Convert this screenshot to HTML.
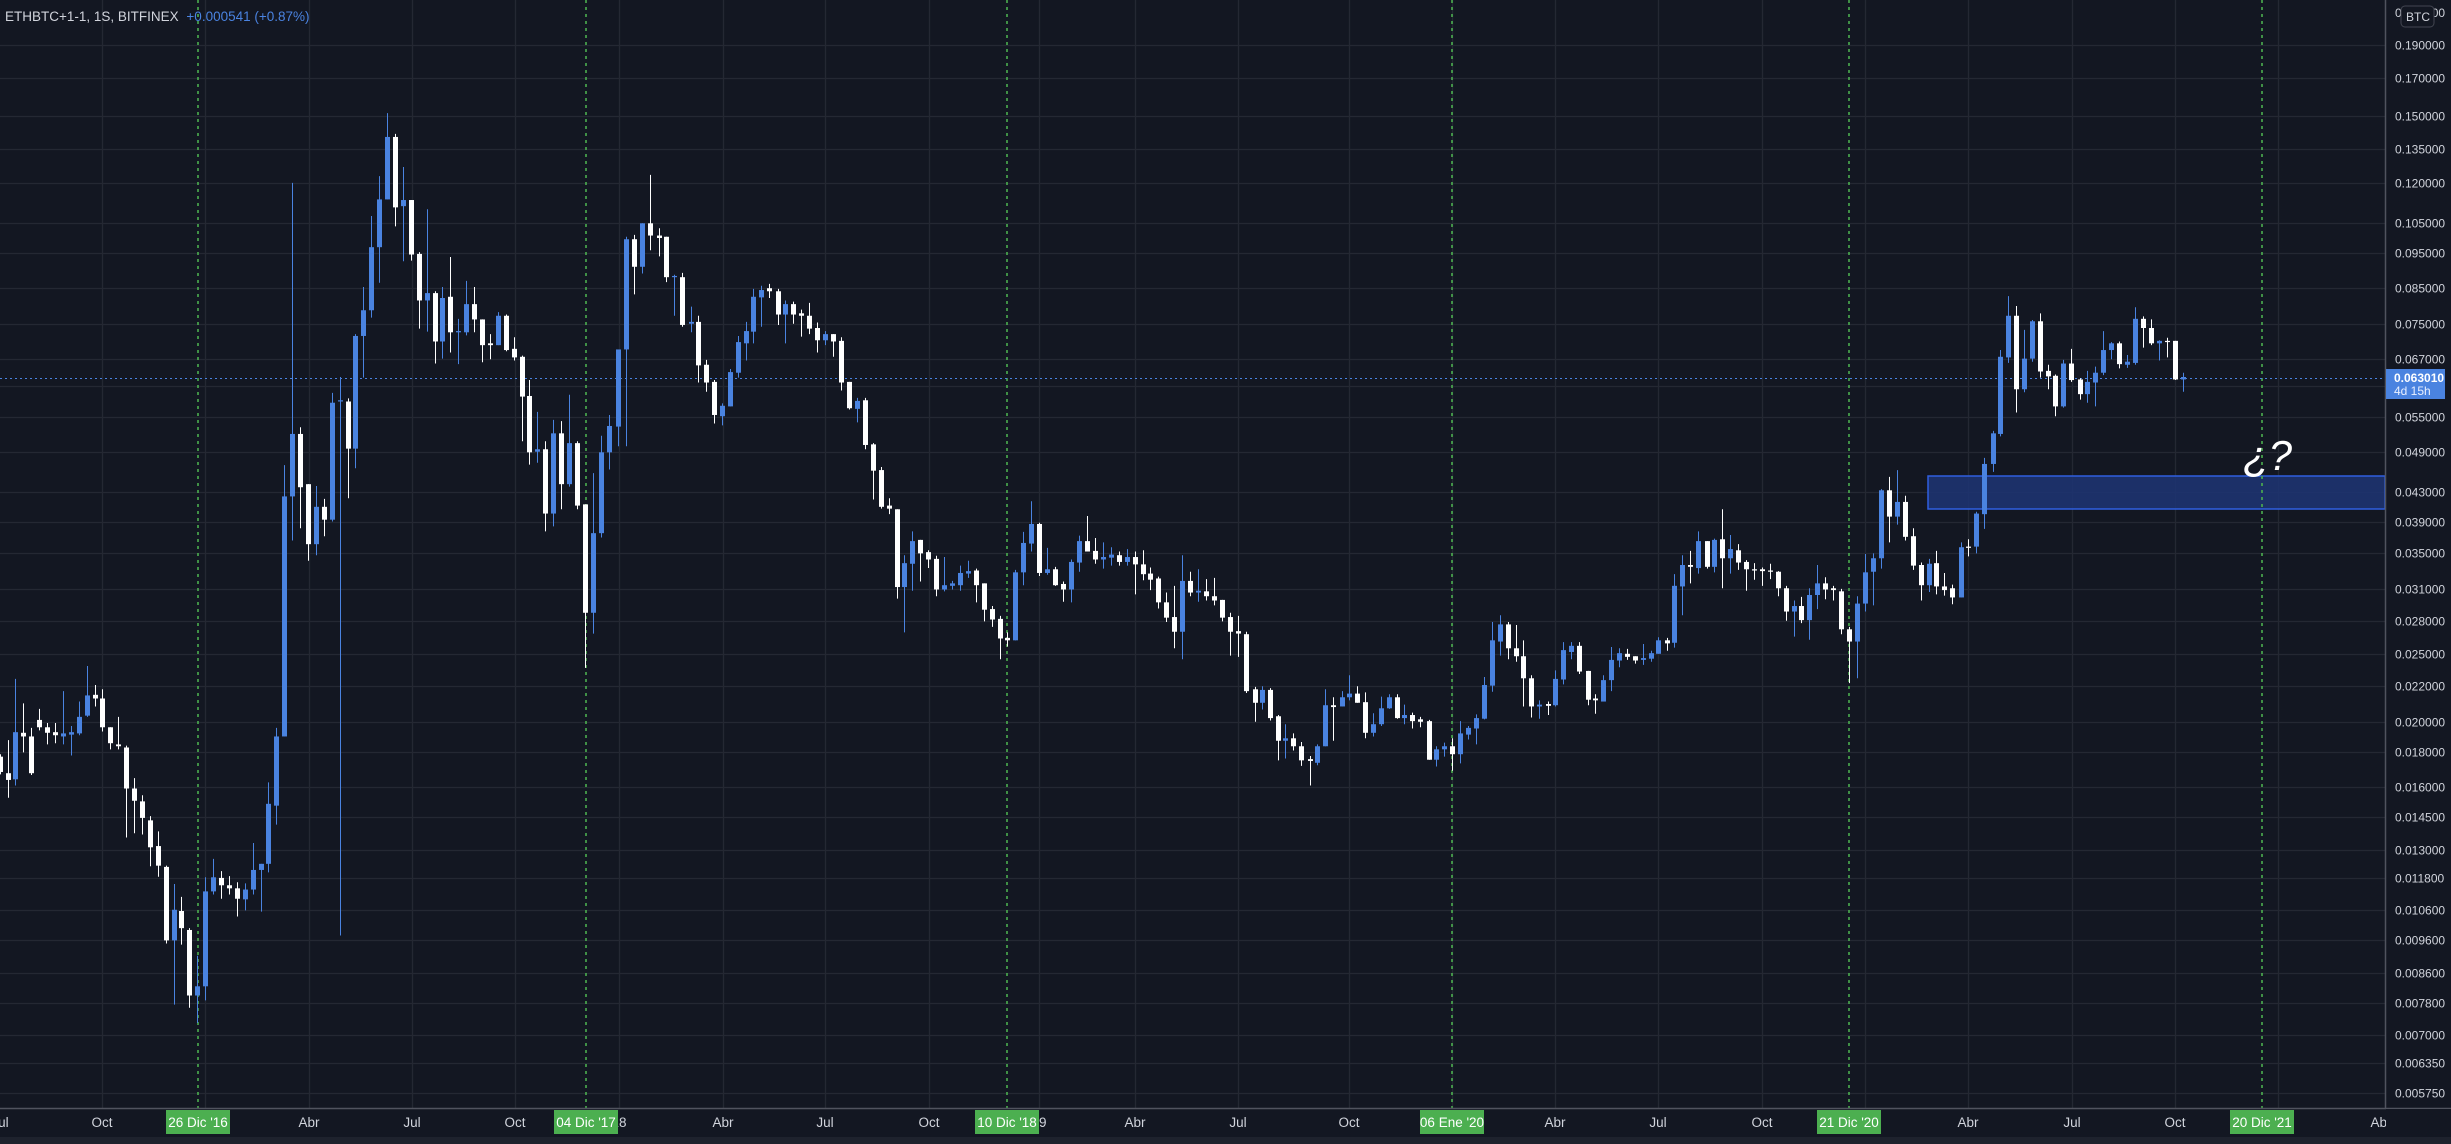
<!DOCTYPE html>
<html><head><meta charset="utf-8"><style>
html,body{margin:0;padding:0;background:#131722;width:2451px;height:1144px;overflow:hidden}
svg{display:block}
text{font-family:"Liberation Sans",sans-serif}
</style></head><body>
<svg id="s" width="2451" height="1144" xmlns="http://www.w3.org/2000/svg"></svg>
<script>
const NS="http://www.w3.org/2000/svg";const S=document.getElementById('s');
function el(t,a,txt){const e=document.createElementNS(NS,t);for(const k in a)e.setAttribute(k,a[k]);if(txt!==undefined)e.textContent=txt;S.appendChild(e);return e;}
el('rect',{x:0,y:0,width:2451,height:1144,fill:'#131722'});
const L=[["0.190000",45],["0.170000",78],["0.150000",116],["0.135000",149],["0.120000",183],["0.105000",223],["0.095000",253],["0.085000",288],["0.075000",324],["0.067000",359],["",386],["0.055000",417],["0.049000",452],["0.043000",492],["0.039000",522],["0.035000",553],["0.031000",589],["0.028000",621],["0.025000",654],["0.022000",686],["0.020000",722],["0.018000",752],["0.016000",787],["0.014500",817],["0.013000",850],["0.011800",878],["0.010600",910],["0.009600",940],["0.008600",973],["0.007800",1003],["0.007000",1035],["0.006350",1063],["0.005750",1093]];
for(const [t,y] of L){el('line',{x1:0,x2:2385,y1:y+.5,y2:y+.5,stroke:'#242833','stroke-width':1.3});}
const VX=[102,205,309,412,515,619,723,825,929,1039,1135,1238,1349,1452,1555,1658,1762,1865,1968,2072,2175,2278];
for(const x of VX)el('line',{x1:x+.5,x2:x+.5,y1:0,y2:1108,stroke:'#242833','stroke-width':1.3});
el('rect',{x:1928,y:476,width:457,height:33,fill:'#1e3370','fill-opacity':0.9,stroke:'#2f5fe0','stroke-width':1.5});
for(const x of [198,586,1007,1452,1849,2262])el('line',{x1:x,x2:x,y1:0,y2:1108,stroke:'#4caf50','stroke-width':1.6,'stroke-dasharray':'3 4'});
el('line',{x1:0,x2:2385,y1:378.5,y2:378.5,stroke:'#4a83e0','stroke-width':1,'stroke-dasharray':'2 3'});
const C=[[0,[
[0,1105,1130,0],[19,1132,1143,0,1078,1172],[39,1065,1142,1,978,1152],[59,1066,1072,0,1018,1098],[79,1072,1132,0,1058,1135],[99,1045,1057,0,1027,1062],[119,1057,1066,0,1050,1085],[139,1065,1070,0,1050,1083],[159,1067,1072,1,998,1085],[179,1065,1069,1,1055,1103],[199,1040,1067,1,1015,1070],[219,1005,1038,1,957,1040],[239,1004,1010,0,988,1023],[259,1010,1057,0,995,1064],[279,1057,1083,0,1057,1093],[299,1085,1088,0,1040,1093],[319,1090,1157,0,1087,1237],[339,1157,1177,0,1140,1230],[359,1178,1205,0,1168,1232],[379,1209,1253,0,1202,1284],[399,1251,1283,0,1227,1301],[419,1285,1405,0,1283,1410],[439,1355,1405,1,1313,1510],[459,1357,1385,0,1334,1412],[479,1388,1495,0,1385,1515],[499,1480,1495,1,1430,1540],[519,1325,1480,1,1302,1503],[539,1302,1325,1,1272,1330],[559,1303,1315,0,1292,1337],[579,1315,1320,0,1300,1330],[599,1320,1337,0,1310,1366],[619,1322,1338,1,1312,1356],[639,1290,1322,1,1246,1330],[659,1280,1290,1,1280,1358],[679,1182,1280,1,1147,1294],[699,1072,1185,1,1058,1216],[719,680,1072,1,629,1072],[739,578,680,1,168,752],[759,578,665,0,567,732],[779,660,758,0,660,785],[799,697,758,1,663,776],[819,697,718,0,684,745],[839,527,718,1,511,721],[859,523,525,1,485,1397],[879,525,602,0,520,683],[899,418,602,1,415,634],[919,376,418,1,338,486],[939,273,376,1,222,388],[959,195,273,1,157,331],[979,93,195,1,54,195],[999,93,208,0,88,239],[1019,196,206,1,142,296],[1039,196,285,0,196,295],[1059,284,360,0,281,406],[1079,348,360,1,211,411],[1099,348,427,0,345,463],[1119,356,427,1,338,455],[1139,354,412,0,289,445],[1159,410,412,1,390,464],[1179,366,412,1,328,417],[1199,366,391,0,338,412],[1219,391,433,0,391,461],[1239,430,433,0,415,456],[1259,385,433,1,379,433],[1279,385,441,0,383,443],[1299,439,453,0,420,458],[1319,452,517,0,450,590],[1339,516,608,0,490,628],[1359,603,607,1,542,625],[1379,603,708,0,590,737],[1399,577,708,1,555,729],[1419,577,660,0,557,701],[1439,593,660,1,514,664],[1459,593,695,0,590,701],[1479,693,870,0,693,960],[1499,740,870,1,642,904],[1519,608,740,1,581,747],[1539,565,608,1,547,636]]],
[600,[[46,440,566,1,440,598],[67,260,440,1,256,598],[87,260,305,0,253,350],[107,234,305,1,234,316],[127,234,254,0,155,278],[148,254,258,0,242,288],[168,256,322,0,256,330],[188,320,322,1,318,385],[208,322,400,0,315,403],[229,395,398,1,370,412],[249,395,466,0,385,494],[269,465,494,0,457,509],[289,493,547,0,490,561],[309,532,549,1,528,564],[330,477,533,1,472,533],[350,428,478,1,418,486],[368,410,430,1,395,458],[388,354,411,1,341,430],[408,343,355,1,336,403],[428,340,345,0,333,356],[449,345,383,0,341,400],[469,366,383,1,360,430],[489,366,383,0,362,398],[509,381,385,0,375,419],[529,385,406,0,364,415],[549,405,425,0,396,445],[570,415,425,1,410,433],[590,415,427,0,415,452],[610,426,494,0,420,507],[630,493,536,0,493,538],[651,524,537,1,519,559],[670,523,596,0,519,603],[690,595,638,0,593,685],[710,637,697,0,632,700],[730,695,700,0,683,709],[750,701,828,0,701,847],[770,789,828,1,776,902],[790,753,790,1,737,834],[810,751,773,0,751,819],[830,771,783,0,768,797],[850,782,832,0,777,843],[870,825,832,1,779,835],[890,822,826,1,818,832],[911,805,825,1,793,834],[931,802,806,1,785,813],[951,801,825,0,798,853],[971,822,865,0,822,884],[991,864,881,0,859,893],[1011,880,912,0,875,946],[1030,911,915,0,902,925],[1050,804,915,1,800,915],[1071,756,804,1,738,825],[1091,725,757,1,688,770],[1111,725,805,0,723,810],[1131,799,805,1,764,808],[1151,799,825,0,795,826],[1172,823,832,0,819,852],[1192,787,832,1,783,853],[1212,753,788,1,744,803],[1232,753,770,0,712,770],[1253,769,783,0,748,790],[1273,779,783,1,755,798],[1293,775,780,1,763,793],[1313,776,787,0,770,793],[1333,779,787,1,766,793],[1352,779,791,0,770,840],[1372,791,807,0,768,817],[1392,806,816,0,796,833],[1412,814,853,0,811,863],[1432,853,878,0,837,885],[1452,877,901,0,826,928],[1472,818,901,1,776,946],[1492,818,837,0,803,843],[1513,834,837,1,799,852],[1533,835,843,0,815,850],[1553,843,850,0,813,858]]],
[1200,[[56,849,878,0,849,884],[77,877,901,0,870,940],[97,900,904,0,875,942],[117,905,998,0,901,1001],[138,995,1017,0,991,1048],[156,996,1017,1,990,1028],[176,996,1042,0,993,1046],[196,1039,1079,0,1037,1111],[216,1075,1079,1,1052,1108],[236,1075,1088,0,1067,1095],[256,1088,1111,0,1081,1120],[277,1109,1112,0,1104,1152],[297,1088,1115,1,1085,1119],[317,1021,1088,1,995,1088],[337,1021,1024,0,1008,1079],[358,1008,1023,1,998,1023],[378,1002,1008,1,972,1013],[398,1002,1017,0,990,1017],[418,1016,1066,0,1000,1075],[438,1052,1066,1,1034,1072],[459,1026,1052,1,1007,1055],[479,1008,1026,1,1003,1027],[497,1008,1042,0,1003,1043],[517,1037,1042,1,1020,1052],[537,1037,1047,0,1033,1059],[557,1044,1048,0,1040,1057],[578,1047,1110,0,1045,1110],[598,1093,1110,1,1088,1121],[618,1088,1093,1,1082,1105],[638,1088,1101,0,1075,1128],[658,1067,1101,1,1047,1116],[679,1058,1069,1,1055,1077],[699,1042,1059,1,1036,1085],[719,988,1043,1,975,1044],[739,915,989,1,885,999],[759,889,917,1,874,940],[779,889,928,0,885,946],[800,928,941,0,890,950],[818,941,977,0,915,1023],[838,977,1023,0,972,1041],[858,1020,1023,1,1013,1043],[879,1019,1022,0,1015,1037],[899,978,1021,1,964,1023],[919,931,979,1,918,987],[939,924,934,1,918,946],[959,924,966,0,918,970],[980,965,1012,0,965,1021],[1000,1010,1013,0,1003,1035],[1020,980,1015,1,972,1015],[1040,947,980,1,926,998],[1060,936,948,1,928,959],[1081,937,942,0,929,947],[1101,941,948,0,941,953],[1121,944,947,1,921,955],[1141,936,945,1,932,950],[1159,915,937,1,910,937],[1180,915,920,0,911,932],[1200,826,919,1,807,927],[1220,792,827,1,776,874],[1240,792,795,0,769,822],[1260,753,797,1,737,806],[1281,753,795,0,753,798],[1301,751,795,1,749,804],[1321,750,781,0,701,830],[1341,766,781,1,743,806],[1361,768,788,0,758,800],[1382,787,799,0,784,834],[1402,799,801,0,789,816],[1422,799,802,0,796,826],[1442,801,803,0,790,815],[1463,803,830,0,802,843],[1483,830,868,0,826,883],[1501,859,868,1,850,909],[1521,859,882,0,844,887],[1541,841,882,1,830,914],[1561,822,841,1,792,864]]],
[1800,[[64,822,832,0,812,848],[84,830,833,0,826,850],[104,835,897,0,831,905],[125,897,917,0,893,985],[145,855,917,1,843,977],[165,804,855,1,774,868],[185,781,803,1,773,858],[205,670,781,1,668,798],[226,670,713,0,648,755],[246,689,713,1,637,726],[266,689,746,0,679,752],[287,745,793,0,732,800],[305,792,825,0,788,850],[325,790,825,1,782,836],[345,789,827,0,769,840],[365,827,833,0,805,842],[385,830,845,0,824,856],[406,763,845,1,755,845],[426,762,764,0,750,778],[446,708,762,1,705,773],[466,627,709,1,617,733],[487,577,627,1,573,640],[507,452,578,1,441,582],[527,385,453,1,353,462],[547,385,505,0,369,543],[567,455,505,1,408,510],[587,394,455,1,392,460],[608,394,476,0,381,486],[628,475,484,0,465,505],[646,483,533,0,481,549],[666,463,533,1,457,535],[686,463,490,0,439,493],[707,489,513,0,487,522],[727,493,513,1,475,527],[747,478,494,1,468,533],[767,441,478,1,410,482],[787,430,441,1,428,456],[807,430,464,0,427,471],[827,460,465,1,449,470],[847,390,462,1,371,465],[867,390,405,0,386,437],[888,405,430,0,391,433],[908,426,430,1,425,458],[929,426,428,0,421,453],[949,426,489,0,426,490],[969,485,489,1,478,509]]]];
const FX=2.529,FY=1.633;
for(const [x0,arr] of C){for(const c of arr){
 const x=x0+c[0]/FX;const t=80+c[1]/FY;let b=80+c[2]/FY;
 const col=c[3]?'#4a83e0':'#ffffff';
 const wt=80+(c[4]!==undefined?c[4]:c[1]-4)/FY, wb=80+(c[5]!==undefined?c[5]:c[2]+4)/FY;
 const xc=Math.round(x)+.5;
 el('line',{x1:xc,x2:xc,y1:wt,y2:wb,stroke:col,'stroke-width':1});
 el('rect',{x:Math.round(x)-2,y:t,width:5,height:Math.max(1.2,b-t),fill:col});
}}
el('text',{x:2243,y:470,fill:'#ffffff','font-size':42,'font-style':'italic','font-family':'"Liberation Sans",sans-serif'},'¿?');
el('rect',{x:2385,y:0,width:66,height:1144,fill:'#131722'});
el('line',{x1:2385.5,x2:2385.5,y1:0,y2:1144,stroke:'#50535e','stroke-width':1.5});
for(const [t,y] of L){if(t)el('text',{x:2395,y:y+4.5,fill:'#d1d4dc','font-size':12},t);}
el('text',{x:2395,y:17,fill:'#d1d4dc','font-size':12},'0.210000');
el('rect',{x:2401,y:6,width:33,height:21,rx:4,fill:'#131722',stroke:'#434651','stroke-width':1});
el('text',{x:2406,y:21,fill:'#d1d4dc','font-size':12},'BTC');
el('rect',{x:2386,y:369,width:59,height:30,fill:'#4a83e0'});
el('text',{x:2394,y:382,fill:'#ffffff','font-size':12,'font-weight':'bold'},'0.063010');
el('text',{x:2394,y:395,fill:'#e8efff','font-size':12},'4d 15h');
el('rect',{x:0,y:1108,width:2386,height:36,fill:'#131722'});
el('line',{x1:0,x2:2451,y1:1108.5,y2:1108.5,stroke:'#50535e','stroke-width':1.5});
el('rect',{x:0,y:1137,width:2451,height:7,fill:'#1e222d'});
const T=[["Jul",0],["Oct",102],["Abr",309],["Jul",412],["Oct",515],["18",619],["Abr",723],["Jul",825],["Oct",929],["19",1039],["Abr",1135],["Jul",1238],["Oct",1349],["Abr",1555],["Jul",1658],["Oct",1762],["Abr",1968],["Jul",2072],["Oct",2175],["Abr",2381]];
for(const [t,x] of T)el('text',{x:x,y:1127,fill:'#d1d4dc','font-size':13.5,'text-anchor':'middle','font-family':'"Liberation Sans Narrow","Liberation Sans",sans-serif'},t);
const G=[["26 Dic '16",198],["04 Dic '17",586],["10 Dic '18",1007],["06 Ene '20",1452],["21 Dic '20",1849],["20 Dic '21",2262]];
for(const [t,x] of G){el('rect',{x:x-32,y:1110,width:64,height:24,fill:'#4caf50'});
 el('text',{x:x,y:1127,fill:'#ffffff','font-size':13.5,'text-anchor':'middle','font-family':'"Liberation Sans Narrow","Liberation Sans",sans-serif'},t);}
el('rect',{x:2386,y:1109,width:65,height:28,fill:'#131722'});
const h=el('text',{x:5,y:21,'font-size':13.5,fill:'#d1d4dc'});
const a=document.createElementNS(NS,'tspan');a.textContent='ETHBTC+1-1, 1S, BITFINEX ';h.appendChild(a);
const b2=document.createElementNS(NS,'tspan');b2.setAttribute('fill','#4a83e0');b2.setAttribute('dx','4');b2.textContent='+0.000541 (+0.87%)';h.appendChild(b2);
</script>
</body></html>
